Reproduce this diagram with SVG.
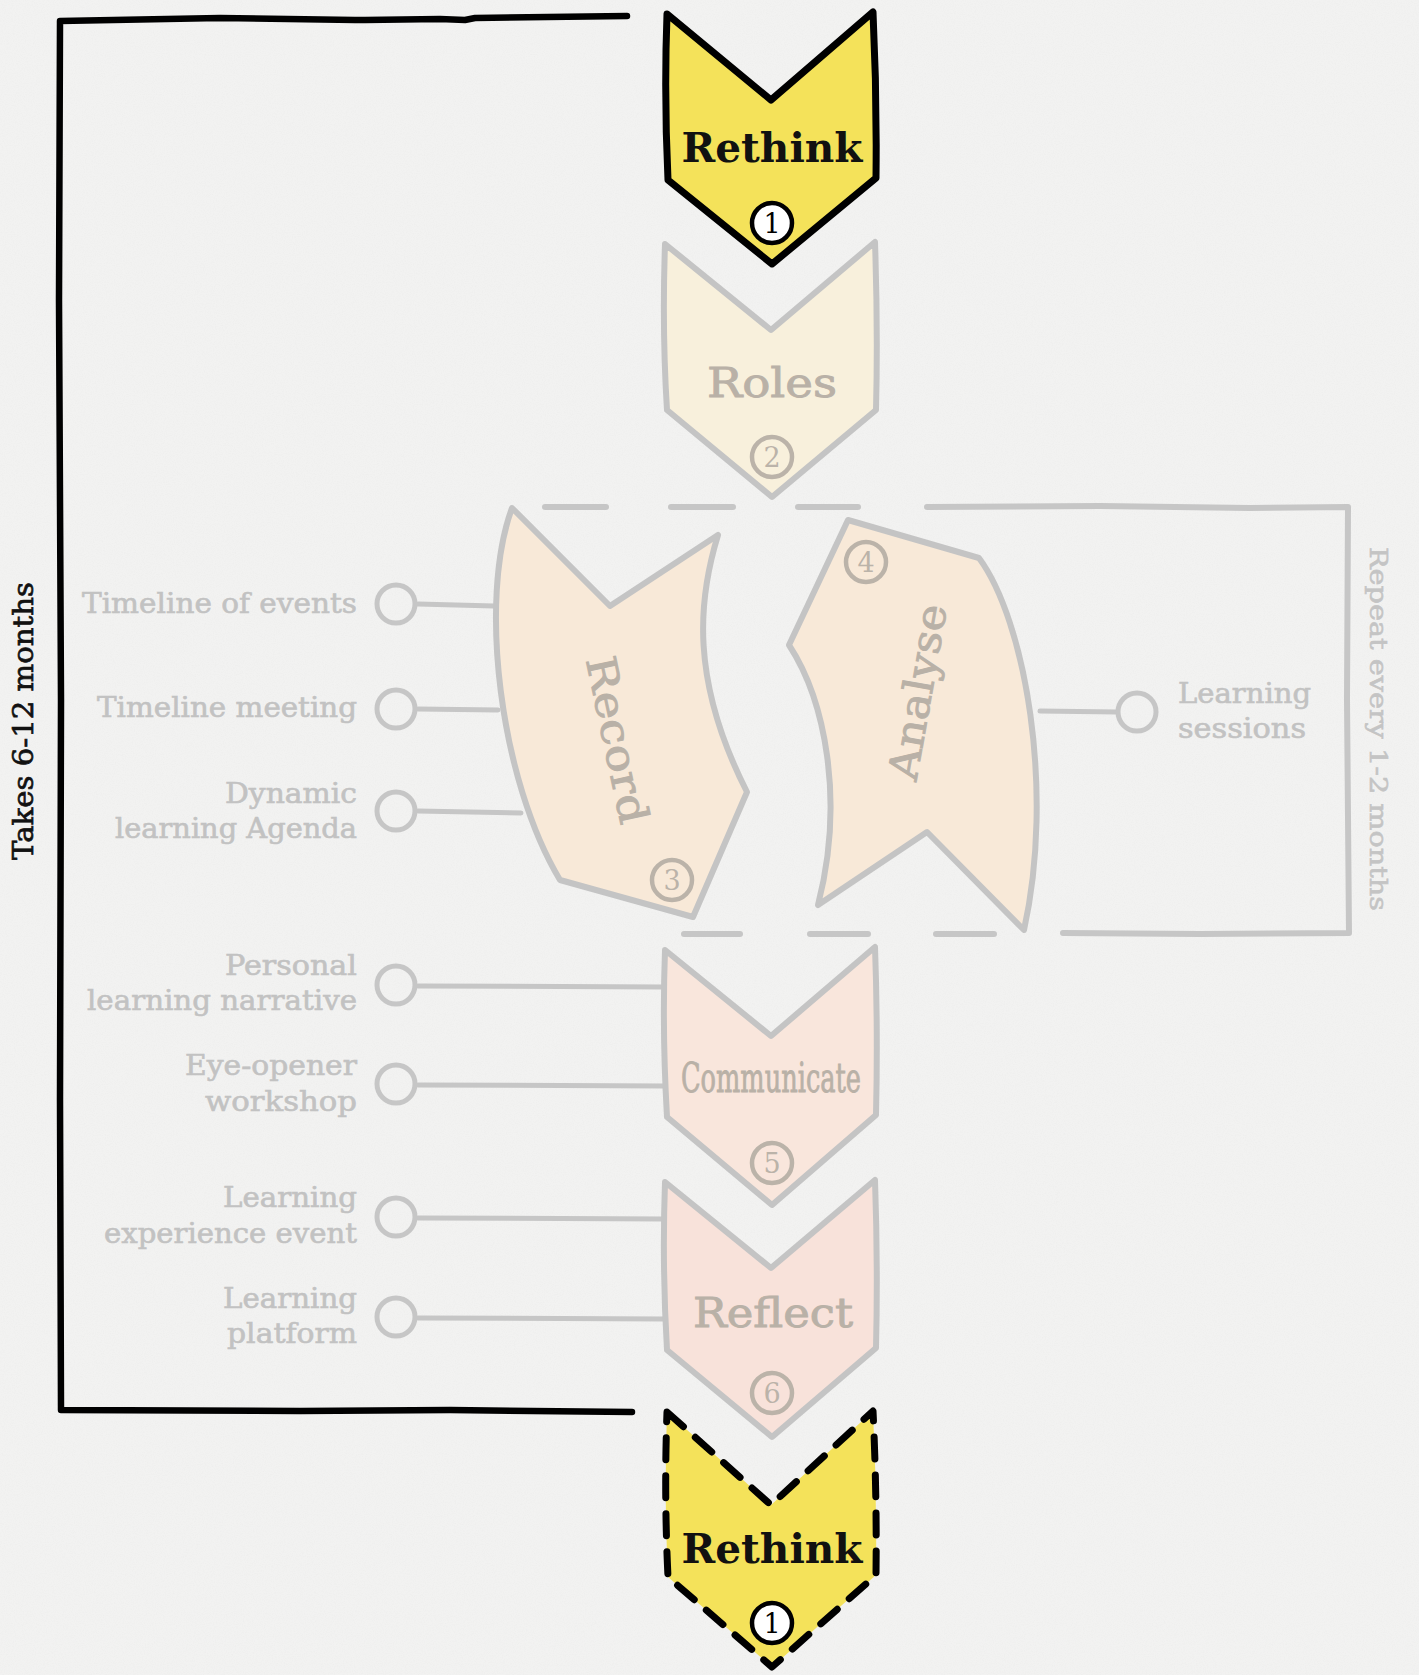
<svg xmlns="http://www.w3.org/2000/svg" width="1419" height="1675" viewBox="0 0 1419 1675">
  <defs>
    <filter id="paper" x="0" y="0" width="100%" height="100%">
      <feTurbulence type="fractalNoise" baseFrequency="0.9" numOctaves="3" seed="7" result="n"/>
      <feColorMatrix type="matrix" values="0 0 0 0 0.55  0 0 0 0 0.55  0 0 0 0 0.55  0 0 0 -0.9 0.55"/>
    </filter>
    <style>
      .bg { fill: #f2f2f1; }
      .hot { fill: #f4e25a; stroke: #000; stroke-width: 7; stroke-linejoin: round; stroke-linecap: round; }
      .hotdash { fill: #f4e25a; stroke: #000; stroke-width: 7; stroke-linejoin: round; stroke-linecap: round; stroke-dasharray: 22 16; }
      .ghost { stroke: #c4c4c4; stroke-width: 6; stroke-linejoin: round; stroke-linecap: round; }
      .roles { fill: #f8f0dc; }
      .peach { fill: #f8e9d8; }
      .comm { fill: #f9e6dc; }
      .refl { fill: #f8e2da; }
      .title { font-family: "DejaVu Serif", "Liberation Serif", serif; text-anchor: middle; }
      .hottext { fill: #111; font-weight: bold; font-size: 41px; }
      .ghosttext { fill: #b9b1a7; font-size: 41px; stroke: #b9b1a7; stroke-width: 0.9; }
      .numhot { fill: #fff; stroke: #000; stroke-width: 4.5; }
      .numghost { fill: none; stroke: #bbb3a9; stroke-width: 4.5; }
      .numt { font-family: "DejaVu Serif", "Liberation Serif", serif; font-size: 27px; text-anchor: middle; }
      .label { font-family: "DejaVu Serif", "Liberation Serif", serif; font-size: 27px; fill: #c2c2c2; stroke: #c2c2c2; stroke-width: 0.6; }
      .conn { fill: none; stroke: #c6c6c6; stroke-width: 5; stroke-linecap: round; }
      .dot { fill: none; stroke: #c6c6c6; stroke-width: 5; }
      .bracket { fill: none; stroke: #000; stroke-width: 6.5; stroke-linecap: round; stroke-linejoin: round; }
      .gbracket { fill: none; stroke: #c6c6c6; stroke-width: 6; stroke-linecap: round; stroke-linejoin: round; }
    </style>
  </defs>

  <rect class="bg" x="0" y="0" width="1419" height="1675"/>
  <rect x="0" y="0" width="1419" height="1675" filter="url(#paper)" opacity="0.16"/>

  <!-- brackets -->
  <g id="bracket-6-12">
    <path class="bracket" d="M627,16 L475,18 L465,20 L440,19 L365,20 L355,20 L220,18 L60,21 L59,300 L61,700 L60,1100 L61,1410 L300,1411 L450,1410 L632,1412"/>
    <text x="33" y="721" transform="rotate(-90 33 721)" font-family="DejaVu Serif, Liberation Serif, serif" font-size="28" fill="#111" stroke="#111" stroke-width="0.7" text-anchor="middle" textLength="278" lengthAdjust="spacingAndGlyphs">Takes 6-12 months</text>
  </g>
  <g id="bracket-1-2">
    <line class="gbracket" x1="545" y1="507" x2="606" y2="507"/>
    <line class="gbracket" x1="671" y1="507" x2="733" y2="507"/>
    <line class="gbracket" x1="798" y1="507" x2="858" y2="507"/>
    <path class="gbracket" d="M927,507 L1100,506 L1250,508 L1348,507 L1347,700 L1349,933 L1200,934 L1063,933"/>
    <line class="gbracket" x1="684" y1="934" x2="740" y2="934"/>
    <line class="gbracket" x1="810" y1="934" x2="868" y2="934"/>
    <line class="gbracket" x1="936" y1="934" x2="994" y2="934"/>
    <text x="1370" y="729" transform="rotate(90 1370 729)" font-family="DejaVu Serif, Liberation Serif, serif" font-size="25" fill="#c4c4c4" stroke="#c4c4c4" stroke-width="0.6" text-anchor="middle" textLength="364" lengthAdjust="spacingAndGlyphs">Repeat every 1-2 months</text>
  </g>

  <!-- connectors -->
  <g id="connectors">
    <path class="conn" d="M418,604 L494,606"/>
    <path class="conn" d="M418,709 L498,710"/>
    <path class="conn" d="M418,811 L521,813"/>
    <path class="conn" d="M418,986 L665,987"/>
    <path class="conn" d="M418,1085 L665,1086"/>
    <path class="conn" d="M418,1218 L665,1219"/>
    <path class="conn" d="M418,1318 L665,1319"/>
    <path class="conn" d="M1040,711 L1117,712"/>
  </g>

  <!-- node: Rethink (top) -->
  <g id="rethink-top">
    <path class="hot" d="M667,14 L771,100 L873,12 Q877,95 876,178 L772,264 L668,180 Q664,95 667,14 Z"/>
    <text class="title hottext" x="772" y="162" textLength="181" lengthAdjust="spacingAndGlyphs">Rethink</text>
    <circle class="numhot" cx="772" cy="223" r="20"/>
    <text class="numt" x="772" y="233" fill="#000">1</text>
  </g>

  <!-- node: Roles -->
  <g id="roles">
    <path class="ghost roles" d="M665,244 L771,330 L875,242 Q878,330 876,410 L772,497 L667,410 Q662,330 665,244 Z"/>
    <text class="title ghosttext" x="772" y="397" textLength="130" lengthAdjust="spacingAndGlyphs">Roles</text>
    <circle class="numghost" cx="772" cy="457" r="20"/>
    <text class="numt" x="772" y="467" fill="#bbb3a9">2</text>
  </g>

  <!-- node: Record -->
  <g id="record">
    <path class="ghost peach" d="M512,508 L610,606 L718,535 C698,600 690,680 747,792 L693,917 L560,880 C500,780 478,600 512,508 Z"/>
    <text class="title ghosttext" x="617" y="740" transform="rotate(78 617 740)" dy="14" font-size="43" textLength="170" lengthAdjust="spacingAndGlyphs">Record</text>
    <circle class="numghost" cx="672" cy="880" r="20"/>
    <text class="numt" x="672" y="890" fill="#bbb3a9">3</text>
  </g>

  <!-- node: Analyse -->
  <g id="analyse">
    <path class="ghost peach" d="M848,520 L979,558 C1025,620 1055,790 1024,930 L927,832 L818,905 C845,800 825,700 789,645 Z"/>
    <text class="title ghosttext" x="918" y="692" transform="rotate(-80 918 692)" dy="14" font-size="43" textLength="178" lengthAdjust="spacingAndGlyphs">Analyse</text>
    <circle class="numghost" cx="866" cy="562" r="20"/>
    <text class="numt" x="866" y="572" fill="#bbb3a9">4</text>
  </g>

  <!-- node: Communicate -->
  <g id="communicate">
    <path class="ghost comm" d="M665,950 L771,1036 L875,947 Q878,1030 876,1115 L772,1205 L667,1117 Q662,1030 665,950 Z"/>
    <text class="title ghosttext" x="771" y="1092" font-family="Liberation Serif, serif" textLength="180" lengthAdjust="spacingAndGlyphs">Communicate</text>
    <circle class="numghost" cx="772" cy="1163" r="20"/>
    <text class="numt" x="772" y="1173" fill="#bbb3a9">5</text>
  </g>

  <!-- node: Reflect -->
  <g id="reflect">
    <path class="ghost refl" d="M665,1182 L771,1268 L875,1180 Q878,1265 876,1348 L772,1437 L667,1350 Q662,1265 665,1182 Z"/>
    <text class="title ghosttext" x="773" y="1327" textLength="160" lengthAdjust="spacingAndGlyphs">Reflect</text>
    <circle class="numghost" cx="772" cy="1393" r="20"/>
    <text class="numt" x="772" y="1403" fill="#bbb3a9">6</text>
  </g>

  <!-- node: Rethink (bottom, dashed) -->
  <g id="rethink-bottom">
    <path class="hotdash" d="M667,1412 L771,1505 L873,1411 Q877,1495 876,1575 L772,1667 L668,1577 Q664,1495 667,1412 Z"/>
    <text class="title hottext" x="772" y="1563" textLength="181" lengthAdjust="spacingAndGlyphs">Rethink</text>
    <circle class="numhot" cx="772" cy="1623" r="20"/>
    <text class="numt" x="772" y="1633" fill="#000">1</text>
  </g>

  <!-- tool nodes (left) -->
  <g id="tool-timeline-events">
    <circle class="dot" cx="396" cy="604" r="19"/>
    <text class="label" x="357" y="613" text-anchor="end" textLength="275" lengthAdjust="spacingAndGlyphs">Timeline of events</text>
  </g>
  <g id="tool-timeline-meeting">
    <circle class="dot" cx="396" cy="709" r="19"/>
    <text class="label" x="357" y="717" text-anchor="end" textLength="260" lengthAdjust="spacingAndGlyphs">Timeline meeting</text>
  </g>
  <g id="tool-dynamic-agenda">
    <circle class="dot" cx="396" cy="811" r="19"/>
    <text class="label" x="357" y="803" text-anchor="end" textLength="132" lengthAdjust="spacingAndGlyphs">Dynamic</text>
    <text class="label" x="357" y="838" text-anchor="end" textLength="242" lengthAdjust="spacingAndGlyphs">learning Agenda</text>
  </g>
  <g id="tool-personal-narrative">
    <circle class="dot" cx="396" cy="985" r="19"/>
    <text class="label" x="357" y="975" text-anchor="end" textLength="132" lengthAdjust="spacingAndGlyphs">Personal</text>
    <text class="label" x="357" y="1010" text-anchor="end" textLength="270" lengthAdjust="spacingAndGlyphs">learning narrative</text>
  </g>
  <g id="tool-eye-opener">
    <circle class="dot" cx="396" cy="1084" r="19"/>
    <text class="label" x="357" y="1075" text-anchor="end" textLength="172" lengthAdjust="spacingAndGlyphs">Eye-opener</text>
    <text class="label" x="357" y="1111" text-anchor="end" textLength="152" lengthAdjust="spacingAndGlyphs">workshop</text>
  </g>
  <g id="tool-learning-experience">
    <circle class="dot" cx="396" cy="1217" r="19"/>
    <text class="label" x="357" y="1207" text-anchor="end" textLength="134" lengthAdjust="spacingAndGlyphs">Learning</text>
    <text class="label" x="357" y="1243" text-anchor="end" textLength="253" lengthAdjust="spacingAndGlyphs">experience event</text>
  </g>
  <g id="tool-learning-platform">
    <circle class="dot" cx="396" cy="1317" r="19"/>
    <text class="label" x="357" y="1308" text-anchor="end" textLength="134" lengthAdjust="spacingAndGlyphs">Learning</text>
    <text class="label" x="357" y="1343" text-anchor="end" textLength="130" lengthAdjust="spacingAndGlyphs">platform</text>
  </g>

  <!-- tool node (right) -->
  <g id="tool-learning-sessions">
    <circle class="dot" cx="1137" cy="712" r="19"/>
    <text class="label" x="1178" y="703" textLength="133" lengthAdjust="spacingAndGlyphs">Learning</text>
    <text class="label" x="1178" y="738" textLength="128" lengthAdjust="spacingAndGlyphs">sessions</text>
  </g>
</svg>
